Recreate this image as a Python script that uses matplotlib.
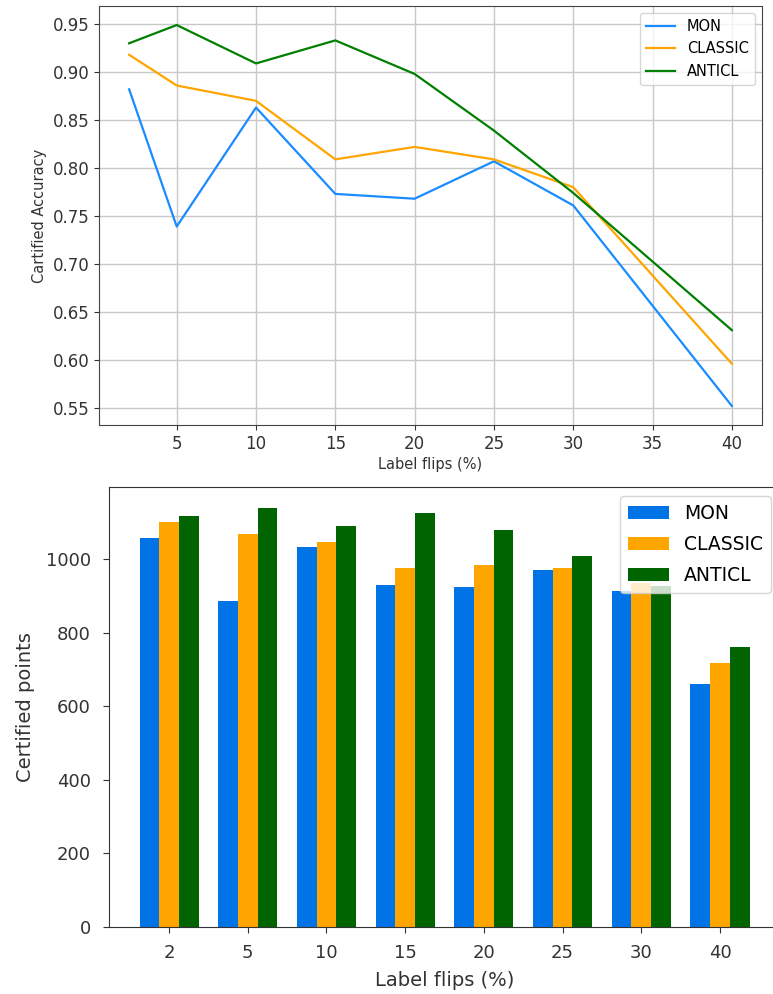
import matplotlib
matplotlib.use("Agg")
import matplotlib.pyplot as plt
import numpy as np

flips = [2, 5, 10, 15, 20, 25, 30, 40]
flip_labels = ["2", "5", "10", "15", "20", "25", "30", "40"]
series_names = ["MON", "CLASSIC", "ANTICL"]

acc_mon = [0.882, 0.739, 0.863, 0.773, 0.768, 0.807, 0.761, 0.552]
acc_classic = [0.918, 0.886, 0.870, 0.809, 0.822, 0.809, 0.780, 0.596]
acc_anticl = [0.930, 0.949, 0.909, 0.933, 0.898, 0.839, 0.774, 0.631]

pts_mon = [1058, 887, 1035, 931, 926, 970, 915, 662]
pts_classic = [1102, 1069, 1047, 976, 986, 976, 936, 718]
pts_anticl = [1118, 1140, 1091, 1125, 1080, 1008, 929, 761]

line_colors = ["#1a8cff", "#ffa500", "#008000"]
bar_colors = ["#0073e6", "#ffa500", "#006400"]

W, H = 773, 994
fig = plt.figure(figsize=(W / 100, H / 100), dpi=100)

# ---- top line chart ----
ax1 = fig.add_axes([99 / W, 1 - 425 / H, 663 / W, 419 / H])
for vals, name, c in zip([acc_mon, acc_classic, acc_anticl], series_names, line_colors):
    ax1.plot(flips, vals, color=c, lw=1.6, label=name)
ax1.grid(True, color="#c8c8c8", lw=1.0)
ax1.set_axisbelow(True)
ax1.set_xticks([5, 10, 15, 20, 25, 30, 35, 40])
ax1.set_yticks([0.55, 0.60, 0.65, 0.70, 0.75, 0.80, 0.85, 0.90, 0.95])
ax1.tick_params(labelsize=12, colors="#333333")
ax1.set_xlabel("Label flips (%)", fontsize=10.5, color="#333333", labelpad=3)
ax1.set_ylabel("Cartified Accuracy", fontsize=10.5, color="#333333", labelpad=4)
for s in ax1.spines.values():
    s.set_color("#444444")
ax1.legend(loc="upper right", fontsize=10.5, framealpha=0.8)

# ---- bottom bar chart ----
ax2 = fig.add_axes([109 / W, 1 - 927 / H, 671 / W, 440 / H])
x = np.arange(len(flips))
bw = 0.25
for i, (vals, name, c) in enumerate(zip([pts_mon, pts_classic, pts_anticl], series_names, bar_colors)):
    ax2.bar(x + (i - 1) * bw, vals, width=bw, color=c, label=name)
ax2.set_xticks(x)
ax2.set_xticklabels(flip_labels)
ax2.set_yticks([0, 200, 400, 600, 800, 1000])
ax2.tick_params(labelsize=13, colors="#333333", length=4.5)
ax2.tick_params(axis="x", pad=8)
ax2.tick_params(axis="y", pad=8.5)
ax2.set_xlabel("Label flips (%)", fontsize=14, color="#333333", labelpad=6)
ax2.set_ylabel("Certified points", fontsize=14, color="#333333", labelpad=8)
for s in ax2.spines.values():
    s.set_color("#333333")
ax2.legend(loc="upper right", fontsize=13.5, framealpha=0.8,
           handlelength=2.2, labelspacing=0.65)

fig.savefig("out.png", dpi=100)
